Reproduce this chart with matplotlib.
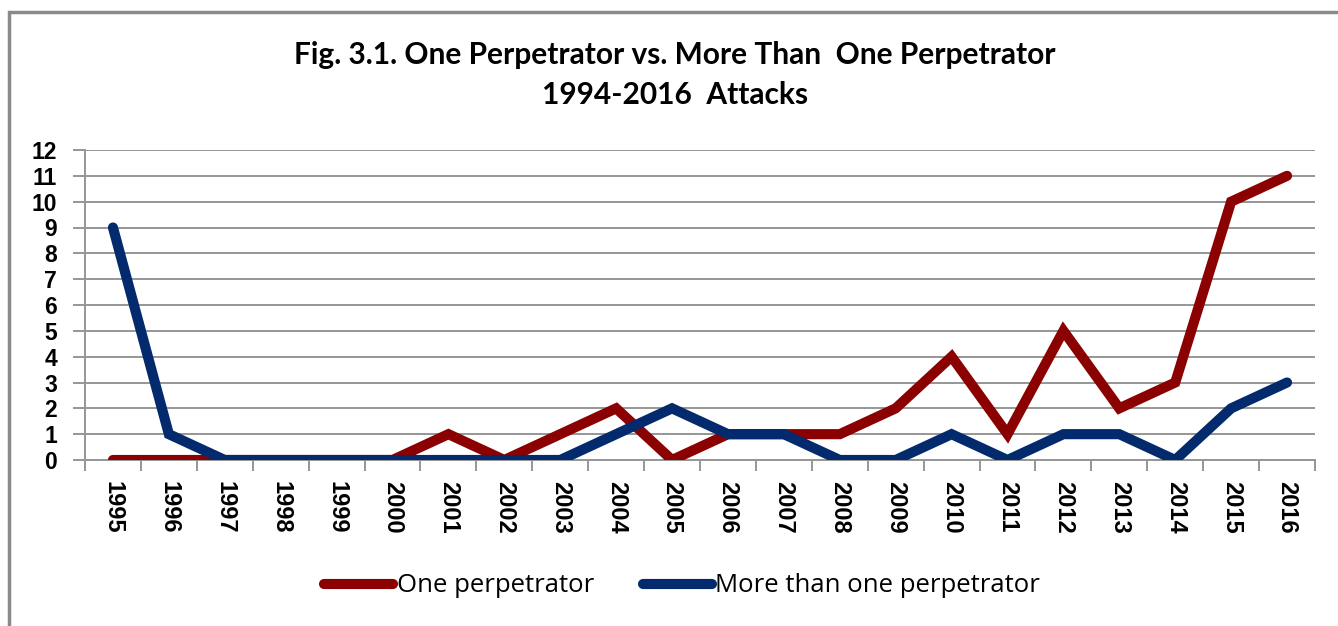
import matplotlib.pyplot as plt
from matplotlib.patches import Rectangle

# data
years = ['1995', '1996', '1997', '1998', '1999', '2000', '2001', '2002',
         '2003', '2004', '2005', '2006', '2007', '2008', '2009', '2010',
         '2011', '2012', '2013', '2014', '2015', '2016']
one_perp = [0, 0, 0, 0, 0, 0, 1, 0, 1, 2, 0, 1, 1, 1, 2, 4, 1, 5, 2, 3, 10, 11]
more_perp = [9, 1, 0, 0, 0, 0, 0, 0, 0, 1, 2, 1, 1, 0, 0, 1, 0, 1, 1, 0, 2, 3]

red = '#8b0000'
blue = '#032a6c'
grey = '#969696'

fig = plt.figure(figsize=(13.38, 6.26), dpi=100)
ax = fig.add_axes([85/1338, 1 - 460/626, 1230/1338, 310/626])

x = list(range(len(years)))
ax.plot(x, one_perp, color=red, lw=7.3, solid_capstyle='round',
        solid_joinstyle='miter', label='One perpetrator', zorder=3)
ax.plot(x, more_perp, color=blue, lw=7.3, solid_capstyle='round',
        solid_joinstyle='miter', label='More than one perpetrator', zorder=4)

ax.set_xlim(-0.5, len(years) - 0.5)
ax.set_ylim(0, 12)
ax.set_yticks(range(0, 13))
ax.yaxis.grid(True, color=grey, lw=1.4)
ax.set_axisbelow(True)

# category ticks sit between the years, labels in the middle
ax.set_xticks([i - 0.5 for i in range(len(years) + 1)])
ax.set_xticklabels([])
ax.set_xticks(x, minor=True)
ax.set_xticklabels(years, minor=True, rotation=270, fontsize=17,
                   fontweight='bold', family='Liberation Sans')
ax.tick_params(axis='x', which='minor', length=0, pad=15)
ax.tick_params(axis='x', which='major', length=8, width=1.4, color=grey,
               direction='out')
ax.tick_params(axis='y', length=9, width=1.4, color=grey, pad=11)
for lab in ax.get_yticklabels():
    lab.set_fontsize(16.5)
    lab.set_fontweight('bold')
    lab.set_family('Liberation Sans')

for s in ['top', 'right']:
    ax.spines[s].set_visible(False)
for s in ['left', 'bottom']:
    ax.spines[s].set_color(grey)
    ax.spines[s].set_linewidth(1.4)

fig.text(675/1338, 1 - 55/626, 'Fig. 3.1. One Perpetrator vs. More Than  One Perpetrator',
         ha='center', va='center', fontsize=21.5, fontweight='bold', family='Lato')
fig.text(675/1338, 1 - 95/626, '1994-2016  Attacks',
         ha='center', va='center', fontsize=21.5, fontweight='bold', family='Lato')

leg = fig.legend(loc='center', bbox_to_anchor=(682/1338, 1 - 586/626), ncol=2,
                 frameon=False, handlelength=2.7,
                 handletextpad=0.12, columnspacing=1.9,
                 prop={'family': 'Open Sans', 'size': 18.5})

# outer chart border (only left and top edges show in the crop)
fig.patches.append(Rectangle((9/1338, -0.1), 1.2, 1 - 12/626 + 0.1,
                             transform=fig.transFigure, fill=False,
                             edgecolor='#8a8a8a', lw=2.5))

fig.savefig('out.png', dpi=100)
